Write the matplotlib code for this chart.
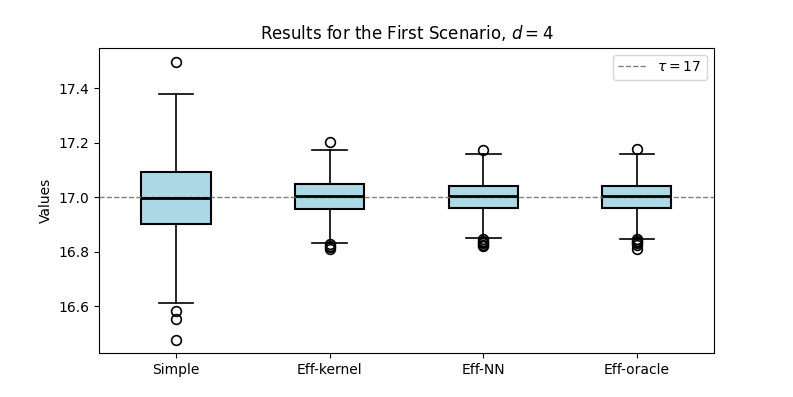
import numpy as np
import matplotlib.pyplot as plt

# box statistics
labels = ['Simple', 'Eff-kernel', 'Eff-NN', 'Eff-oracle']
med = [16.996, 17.003, 17.003, 17.003]
q1 = [16.902, 16.958, 16.961, 16.961]
q3 = [17.094, 17.047, 17.042, 17.042]
whislo = [16.613, 16.831, 16.849, 16.847]
whishi = [17.380, 17.172, 17.157, 17.157]
fliers = [
    [17.496, 16.581, 16.553, 16.477],
    [17.204, 16.828, 16.822, 16.816, 16.811],
    [17.172, 16.845, 16.840, 16.835, 16.830, 16.825, 16.820],
    [17.177, 16.845, 16.840, 16.835, 16.830, 16.826, 16.810],
]
tau = 17

stats = []
for i in range(len(labels)):
    stats.append(dict(label=labels[i], med=med[i], q1=q1[i], q3=q3[i],
                      whislo=whislo[i], whishi=whishi[i], fliers=fliers[i]))

fig, ax = plt.subplots(figsize=(7.93, 3.97), dpi=100)
ax.bxp(stats, widths=0.45, patch_artist=True,
       boxprops=dict(facecolor='lightblue', edgecolor='black', linewidth=1.5),
       medianprops=dict(color='black', linewidth=2),
       whiskerprops=dict(color='black', linewidth=1.2),
       capprops=dict(color='black', linewidth=1.2),
       flierprops=dict(marker='o', markerfacecolor='none', markeredgecolor='black',
                       markersize=7, markeredgewidth=1.2))
ax.axhline(tau, color='gray', linestyle='--', linewidth=1, label=r'$\tau = 17$')
ax.set_ylim(16.4265, 17.549)
ax.set_yticks([16.6, 16.8, 17.0, 17.2, 17.4])
ax.set_ylabel('Values')
ax.set_title('Results for the First Scenario, $d = 4$')
ax.legend(loc='upper right')
fig.savefig('out.png')
